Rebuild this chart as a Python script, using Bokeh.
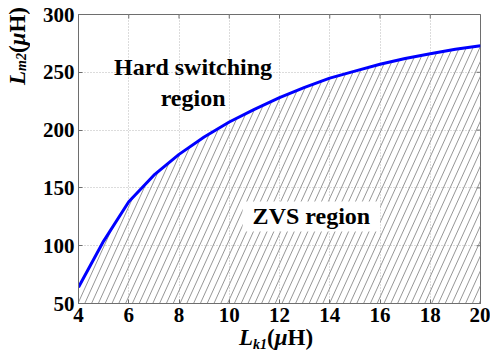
import numpy as np
from bokeh.plotting import figure
from bokeh.models import Label, FixedTicker, Range1d, Div, Row, Column
from bokeh.embed import file_html
from bokeh.resources import INLINE

# ---- data ----
lk1 = [4, 5, 6, 7, 8, 9, 10, 11, 12, 13, 14, 15, 16, 17, 18, 19, 20]
lm2 = [64, 104, 138, 161, 179, 194, 207, 218, 228, 237, 245, 251, 257, 262, 266, 270, 273]
x_ticks = [4, 6, 8, 10, 12, 14, 16, 18, 20]
y_ticks = [50, 100, 150, 200, 250, 300]
hard_text = ["Hard switching", "region"]
zvs_text = "ZVS region"
x_title = ("L", "k1", "\u03bc", "H")
y_title = ("L", "m2", "\u03bc", "H")

# ---- layout ----
W, H = 490, 359
YDIV_W = 30
XDIV_H = 26
P_W, P_H = W - YDIV_W, H - XDIV_H
BL, BR, BT, BB = 78 - YDIV_W, 10, 14, 30
FW, FH = P_W - BL - BR, P_H - BT - BB
X0, X1 = x_ticks[0], x_ticks[-1]
Y0, Y1 = y_ticks[0], y_ticks[-1]

FONT = "Liberation Serif"
GRAY = "#6e6e6e"

p = figure(width=P_W, height=P_H, x_range=Range1d(X0, X1), y_range=Range1d(Y0, Y1),
           output_backend="svg", toolbar_location=None,
           min_border_left=BL, min_border_right=BR, min_border_top=BT, min_border_bottom=BB)
p.background_fill_color = "white"
p.border_fill_color = "white"
p.outline_line_color = GRAY
p.outline_line_width = 1

for ax in (p.xaxis[0], p.yaxis[0]):
    ax.major_label_text_font = FONT
    ax.major_label_text_font_style = "bold"
    ax.major_label_text_font_size = "21px"
    ax.major_label_text_color = "black"
    ax.major_tick_in = 4
    ax.major_tick_out = 0
    ax.minor_tick_line_color = None
    ax.axis_line_color = GRAY
    ax.major_tick_line_color = GRAY
    ax.major_label_standoff = 4
p.xaxis.ticker = FixedTicker(ticks=x_ticks)
p.yaxis.ticker = FixedTicker(ticks=y_ticks)

p.xgrid.ticker = FixedTicker(ticks=x_ticks)
p.ygrid.ticker = FixedTicker(ticks=y_ticks)
for g in (p.xgrid[0], p.ygrid[0]):
    g.grid_line_color = "#b8b8b8"
    g.grid_line_dash = "1 2"
    g.grid_line_width = 1

# mirrored inward ticks on the top and right edges (half of each dash is clipped away)
p.scatter(x_ticks, [Y1] * len(x_ticks), marker="dash", angle=np.pi / 2, size=8,
          line_color=GRAY, line_width=1)
p.scatter([X1] * len(y_ticks), y_ticks, marker="dash", size=8,
          line_color=GRAY, line_width=1)

# ---- hatch of the ZVS region (steep diagonal lines under the curve) ----
px_x = FW / (X1 - X0)
px_y = FH / (Y1 - Y0)
slope_px = 2.2
spacing_px = 6.8
k = slope_px * px_x / px_y
dx = spacing_px / px_x
xs_f = np.linspace(X0, X1, 4001)
ys_f = np.interp(xs_f, lk1, lm2)
x0s = np.arange(X0 - (lm2[0] - Y0) / k, X1, dx)
sx0, sy0, sx1, sy1 = [], [], [], []
for x0 in x0s:
    xs_start = max(x0, X0)
    ys_start = Y0 + k * (xs_start - x0)
    if ys_start >= np.interp(xs_start, lk1, lm2):
        continue
    yl = Y0 + k * (xs_f - x0)
    d = yl - ys_f
    idx = np.where((xs_f >= xs_start) & (d >= 0))[0]
    if len(idx):
        i = idx[0]
        if i == 0:
            continue
        t = -d[i - 1] / (d[i] - d[i - 1])
        xe = xs_f[i - 1] + t * (xs_f[i] - xs_f[i - 1])
        ye = Y0 + k * (xe - x0)
    else:
        xe = X1
        ye = Y0 + k * (X1 - x0)
    sx0.append(xs_start); sy0.append(ys_start); sx1.append(xe); sy1.append(ye)
p.segment(sx0, sy0, sx1, sy1, line_color="#8a8a8a", line_width=0.9)

# ---- boundary curve ----
p.line(lk1, lm2, line_color="#0000ff", line_width=3)

# ---- region labels ----
def txt(x, y, s, **kw):
    lab = Label(x=x, y=y, text=s, text_font=FONT, text_font_style="bold",
                text_font_size="24px", text_color="black", text_align="center",
                text_baseline="alphabetic", **kw)
    p.add_layout(lab)
    return lab

txt(8.56, 254.2, hard_text[0])
txt(8.56, 227.5, hard_text[1])
txt(13.27, 125.3, zvs_text, background_fill_color="white", padding=(10, 2))

# ---- axis titles as rich text (italic symbol + subscript) ----
span_css = ("font-family:'Liberation Serif';font-weight:bold;font-size:23px;"
            "color:black;white-space:nowrap;line-height:23px;")
sub_css = "font-size:14px;vertical-align:-4px;line-height:0;"


def rich(t):
    return (f"<i>{t[0]}</i><i style=\"{sub_css}\">{t[1]}</i>"
            f"(<i>{t[2]}</i>{t[3]})")


xdiv = Div(text=f"<div style=\"{span_css}position:relative;left:{279 - YDIV_W - 40}px;"
                f"top:-7px;\">{rich(x_title)}</div>",
           width=P_W, height=XDIV_H, margin=0, styles={"overflow": "visible"})
ydiv = Div(text=f"<div style=\"{span_css}writing-mode:vertical-rl;transform:rotate(180deg);"
                f"position:relative;left:6px;top:7px;\">{rich(y_title)}</div>",
           width=YDIV_W, height=H, margin=0, styles={"overflow": "visible"})

p.margin = 0
layout = Row(children=[ydiv, Column(children=[p, xdiv], spacing=0, margin=0)],
             spacing=0, margin=0)

open("out.html", "w").write(file_html(layout, INLINE))
